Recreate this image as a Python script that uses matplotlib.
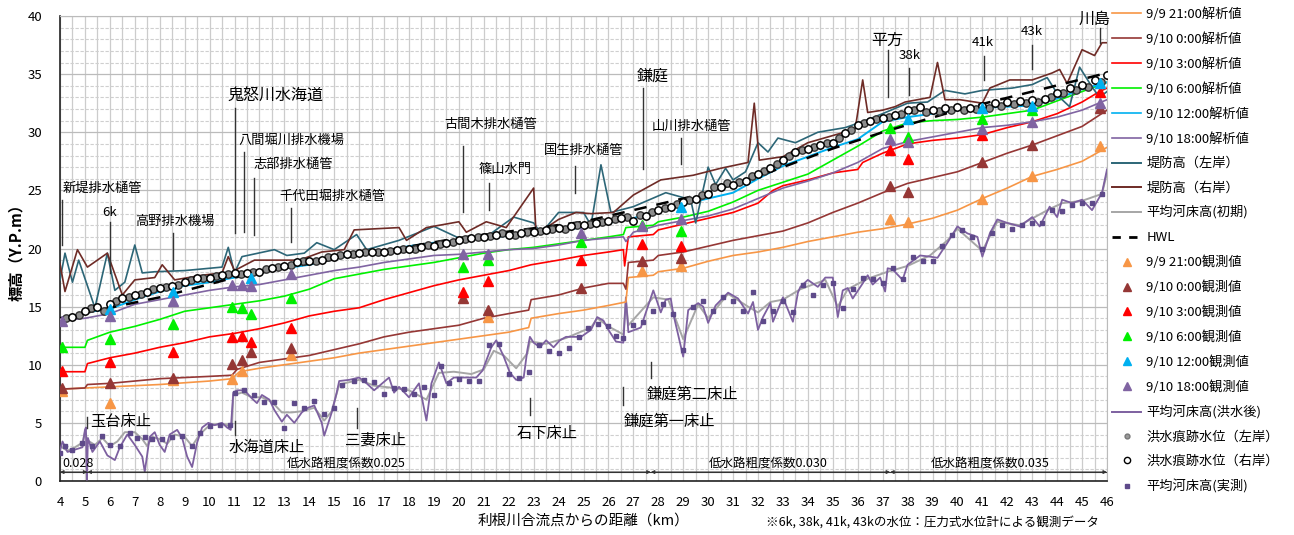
import numpy as np
import matplotlib
matplotlib.use('Agg')
import matplotlib.pyplot as plt
from matplotlib.lines import Line2D

plt.rcParams['font.family'] = ['Noto Sans CJK JP', 'DejaVu Sans']

# ---- calculated water levels (km, m) ----
km_2100 = [4, 5, 6, 7, 8, 9, 10, 10.9, 11.2, 12, 13, 14, 15, 16, 17, 18, 19, 20, 21, 22, 22.8, 22.9, 24, 25, 26, 26.7,
           26.8, 27.8, 28, 29, 30, 31, 32, 33, 34, 35, 36, 37, 38, 39, 40, 41, 42, 43, 44, 45, 46]
wl_2100 = [7.9, 8.0, 8.1, 8.2, 8.3, 8.45, 8.6, 8.8, 9.4, 9.7, 10.0, 10.3, 10.6, 11.0, 11.3, 11.6, 11.9, 12.2, 12.5, 12.8, 13.2, 14.0, 14.4, 14.7, 15.1, 15.4,
           17.5, 17.7, 18.0, 18.3, 18.9, 19.4, 19.7, 20.1, 20.6, 21.0, 21.4, 21.7, 22.1, 22.6, 23.3, 24.3, 25.2, 26.2, 26.8, 27.5, 28.7]

km_0000 = [4, 5, 5.1, 6, 7, 8, 9, 10, 10.9, 11.1, 12, 13, 14, 15, 16, 17, 18, 19, 20, 21, 22, 22.8, 22.9, 24, 25, 26, 26.6, 26.7,
           26.8, 27.8, 28, 29, 30, 31, 32, 33, 34, 35, 36, 37, 38, 39, 40, 41, 42, 43, 44, 45, 46]
wl_0000 = [7.9, 8.0, 8.3, 8.4, 8.6, 8.8, 8.9, 9.0, 9.1, 9.6, 10.2, 10.5, 10.8, 11.3, 11.8, 12.4, 12.8, 13.1, 13.4, 14.0, 14.4, 14.7, 15.6, 16.0, 16.6, 17.0, 17.0, 16.5,
           18.8, 19.0, 19.4, 19.7, 20.2, 20.7, 21.1, 21.5, 22.2, 23.1, 23.9, 24.8, 25.6, 26.1, 26.6, 27.4, 28.2, 28.9, 29.7, 30.5, 31.9]

km_0300 = [4, 5, 5.1, 6, 7, 8, 9, 10, 11, 12, 13, 14, 15, 16, 17, 18, 19, 20, 21, 22, 22.9, 24, 25, 26, 26.6, 26.65,
           26.8, 27.8, 28, 29, 30, 31, 32, 32.6, 33, 34, 35, 36, 36.2, 37, 38, 39, 40, 41, 42, 43, 44, 45, 45.7, 46]
wl_0300 = [9.4, 9.4, 10.1, 10.6, 11.0, 11.5, 11.9, 12.4, 12.7, 13.1, 13.6, 14.2, 14.6, 14.9, 15.6, 16.2, 16.8, 17.3, 17.7, 18.1, 18.6, 19.0, 19.4, 19.7, 19.9, 18.5,
           21.0, 21.2, 21.6, 22.1, 22.6, 23.1, 23.9, 25.0, 25.4, 25.9, 26.5, 26.8, 27.4, 28.2, 29.0, 29.3, 29.5, 29.8, 30.4, 30.9, 31.6, 32.6, 33.5, 33.8]

km_0600 = [4, 5, 5.1, 6, 7, 8, 9, 10, 11, 12, 13, 14, 15, 16, 17, 18, 19, 20, 21, 22, 23, 24, 25, 26, 26.6, 26.7,
           27.8, 28, 29, 30, 31, 32, 33, 34, 35, 36, 37, 38, 39, 40, 41, 42, 43, 44, 45, 46]
wl_0600 = [11.5, 11.5, 12.1, 12.8, 13.3, 13.9, 14.6, 14.9, 15.2, 15.5, 15.9, 16.5, 17.4, 17.8, 18.2, 18.5, 18.8, 19.2, 19.6, 19.9, 20.1, 20.4, 20.7, 21.0, 21.2, 21.8,
           22.0, 22.3, 22.7, 23.2, 24.0, 25.0, 25.7, 26.4, 27.6, 28.8, 30.1, 30.8, 31.0, 31.1, 31.3, 31.6, 31.9, 32.7, 33.5, 34.3]

km_1200 = [4, 5, 6, 7, 8, 9, 10, 11, 12, 13, 14, 15, 16, 17, 18, 19, 20, 21, 22, 23, 24, 25, 26, 27, 28, 29, 30,
           31, 32, 33, 34, 35, 36, 37, 38, 39, 40, 41, 42, 43, 44, 45, 46]
wl_1200 = [13.8, 14.5, 14.8, 15.6, 16.3, 16.8, 17.1, 17.5, 17.9, 18.3, 18.6, 19.1, 19.6, 19.8, 20.2, 20.5, 20.7, 20.9, 21.1, 21.3, 21.6, 21.8, 22.2, 22.6, 23.3, 23.8, 24.3,
           24.8, 26.0, 27.1, 27.9, 28.7, 29.4, 30.9, 31.3, 31.6, 31.9, 32.1, 32.2, 32.3, 32.9, 33.7, 34.3]

km_1800 = [4, 5, 6, 7, 8, 9, 10, 11, 12, 13, 14, 15, 16, 17, 18, 19, 20, 21, 22, 23, 24, 25, 26, 26.6, 26.7, 27, 28, 29, 30,
           31, 32, 33, 34, 35, 36, 37, 38, 39, 40, 41, 42, 43, 44, 45, 46]
wl_1800 = [13.8, 14.0, 14.4, 15.2, 15.6, 16.0, 16.4, 16.7, 16.9, 17.3, 17.7, 18.1, 18.4, 18.8, 19.1, 19.4, 19.5, 19.7, 19.9, 20.0, 20.3, 20.7, 20.9, 21.0, 20.6, 21.4, 22.0, 22.4, 22.8,
           23.4, 24.3, 25.2, 25.8, 26.5, 27.4, 28.6, 29.2, 29.6, 30.0, 30.4, 30.6, 30.9, 31.3, 31.9, 32.8]

km_hwl = [4, 8, 11, 14, 20, 25, 27, 30, 32, 35, 37, 40, 43, 46]
hwl = [14.0, 15.8, 17.5, 18.7, 20.9, 22.3, 23.3, 24.8, 26.2, 28.6, 30.0, 31.9, 33.5, 35.1]

# ---- levee crest ----
km_lev_l = [4.0, 4.2, 4.5, 4.75, 5.4, 5.9, 6.2, 6.6, 7.0, 7.3, 7.8, 9.0, 10.5, 10.75, 11.0, 11.3, 12.6, 13.1, 13.8, 14.3, 15.0, 15.9,
            16.3, 17.6, 19.0, 20.0, 21.1, 22.2, 23.0, 23.3, 24.0, 25.0, 25.3, 25.7, 26.1, 27.0, 28.3, 29.3, 29.5, 30.0, 30.3, 30.7,
            31.0, 31.5, 32.0, 32.4, 32.8, 33.5, 34.4, 35.5, 36.3, 37.0, 38.0, 38.8, 39.5, 40.3, 41.0, 42.2, 43.0, 43.6, 44.1, 44.5, 44.9, 45.4, 45.7, 46.0]
lev_l = [17.3, 19.6, 17.1, 19.0, 14.9, 19.6, 16.4, 17.1, 20.3, 17.9, 18.0, 18.1, 18.4, 20.1, 17.9, 19.3, 19.9, 19.4, 19.6, 20.5, 19.9, 21.2,
         19.9, 20.7, 21.9, 20.9, 21.0, 22.7, 22.2, 21.3, 23.1, 23.1, 22.0, 27.2, 23.1, 23.6, 24.8, 24.2, 22.2, 27.0, 25.5, 26.9,
         25.9, 26.6, 29.1, 28.3, 29.5, 29.1, 30.0, 30.4, 31.0, 31.6, 32.5, 32.6, 33.6, 33.3, 33.6, 33.8, 34.1, 34.7, 33.0, 32.2, 35.6, 33.9, 33.0, 33.5]

km_lev_r = [4.0, 4.2, 4.7, 5.1, 5.5, 5.9, 6.5, 7.0, 7.8, 8.1, 8.6, 9.7, 10.5, 10.75, 11.0, 11.8, 13.6, 14.5, 15.4, 15.8, 17.6, 17.9,
            18.7, 20.0, 20.3, 21.1, 21.9, 23.0, 23.1, 24.0, 24.7, 25.3, 26.2, 27.0, 28.1, 29.4, 30.5, 31.6, 31.85, 32.05, 33.0, 34.0,
            35.3, 35.9, 36.2, 36.4, 37.0, 37.5, 37.9, 38.9, 39.2, 39.5, 40.1, 41.0, 41.3, 42.1, 43.0, 43.8, 44.1, 44.4, 45.0, 45.5, 45.8, 46.0]
lev_r = [18.7, 16.3, 19.9, 18.4, 19.0, 19.6, 16.0, 17.3, 17.5, 18.6, 17.3, 17.7, 17.9, 19.3, 18.1, 19.0, 19.0, 19.7, 19.9, 21.6, 21.8, 20.7,
         21.8, 22.3, 21.4, 22.3, 21.8, 25.2, 21.2, 22.5, 23.1, 23.0, 23.1, 24.6, 25.9, 26.3, 26.9, 27.4, 32.5, 27.6, 27.9, 29.1,
         29.9, 30.3, 34.5, 31.7, 31.9, 32.2, 32.6, 33.0, 36.0, 32.8, 32.8, 32.5, 33.8, 34.5, 34.5, 35.1, 35.4, 34.2, 37.1, 36.6, 37.7, 37.7]

# ---- river bed ----
km_bed = [4.0, 4.1, 4.3, 4.6, 4.9, 5.0, 5.04, 5.08, 5.12, 5.3, 5.6, 5.9, 6.2, 6.4, 6.7, 7.0, 7.3, 7.4, 7.6, 7.8, 8.0, 8.2, 8.4, 8.7,
          8.9, 9.1, 9.3, 9.5, 9.7, 9.95, 10.2, 10.5, 10.7, 10.85, 10.95, 11.1, 11.4, 11.7, 11.9, 12.1, 12.4, 12.6, 12.9, 13.1, 13.4,
          13.7, 13.95, 14.2, 14.5, 14.6, 14.9, 15.1, 15.2, 15.6, 16.0, 16.3, 16.6, 17.2, 17.4, 17.6, 18.0, 18.4, 18.7, 18.9, 19.2,
          19.5, 19.8, 20.3, 20.7, 20.95, 21.3, 21.5, 21.8, 22.05, 22.3, 22.6, 22.75, 22.85, 23.0, 23.25, 23.5, 23.8, 24.05, 24.3,
          24.9, 25.3, 25.55, 25.8, 26.0, 26.3, 26.6, 26.7, 26.8, 27.3, 27.8, 28.1, 28.3, 28.5, 28.6, 29.0, 29.2, 29.6, 29.8, 30.0,
          30.3, 30.8, 31.2, 31.6, 31.8, 32.0, 32.2, 32.5, 32.6, 33.0, 33.4, 33.6, 33.7, 34.0, 34.4, 34.7, 35.0, 35.2, 35.4, 35.6,
          35.8, 36.2, 36.4, 36.6, 36.9, 37.1, 37.2, 37.4, 37.8, 38.0, 38.5, 38.9, 39.2, 39.6, 40.0, 40.4, 40.8, 41.0, 41.3, 41.6,
          42.0, 42.5, 43.0, 43.3, 43.7, 44.0, 44.2, 44.6, 45.0, 45.4, 45.8, 46.0]
bed_after = [2.6, 3.4, 2.5, 2.7, 2.9, 4.4, 4.6, 0.1, 3.7, 2.5, 3.4, 2.2, 1.8, 2.9, 4.0, 3.1, 2.1, 0.8, 3.8, 4.2, 3.1, 2.5, 4.0, 4.4,
             3.7, 2.1, 1.2, 3.3, 4.6, 5.0, 4.8, 5.0, 4.6, 4.4, 7.6, 7.8, 7.8, 7.1, 6.7, 7.4, 7.0, 6.1, 5.1, 5.7, 5.0,
             5.9, 6.3, 6.5, 5.0, 3.9, 5.9, 7.6, 8.6, 8.7, 8.9, 8.4, 7.8, 8.9, 7.6, 8.1, 7.2, 8.4, 5.2, 8.4, 10.2,
             8.4, 8.9, 8.9, 8.9, 9.5, 11.5, 12.1, 10.7, 9.3, 8.7, 8.9, 11.3, 12.4, 11.9, 11.5, 12.1, 11.5, 12.1, 12.4,
             12.4, 13.0, 14.1, 13.8, 13.0, 12.0, 11.9, 15.8, 12.8, 13.2, 16.4, 14.5, 15.6, 15.7, 14.4, 10.7, 14.7, 15.3, 15.0, 13.6,
             15.1, 16.2, 15.7, 14.4, 15.4, 13.0, 14.1, 15.3, 13.7, 15.8, 13.7, 16.2, 16.7, 17.3, 16.7, 17.5, 17.5, 14.1, 16.4, 16.6,
             15.7, 17.0, 17.7, 16.9, 17.5, 16.3, 18.3, 18.2, 17.3, 18.6, 19.4, 19.3, 19.2, 20.5, 21.9, 21.3, 21.0, 19.3, 21.3, 22.5,
             22.2, 21.9, 22.7, 21.9, 23.6, 22.7, 24.2, 23.9, 24.2, 23.3, 24.8, 26.8]

km_bed0 = [4.0, 4.3, 4.6, 4.9, 5.0, 5.1, 5.4, 5.7, 6.0, 6.3, 6.6, 7.0, 7.3, 7.5, 7.7, 8.0, 8.3, 8.6, 9.0, 9.3, 9.6, 10.0, 10.5,
           10.9, 10.95, 11.3, 11.7, 12.1, 12.5, 12.9, 13.3, 13.7, 14.2, 14.6, 14.9, 15.2, 16.0, 16.6, 17.4, 18.0, 18.7, 19.2,
           19.8, 20.5, 21.0, 21.4, 21.8, 22.3, 22.75, 22.85, 23.5, 24.3, 25.3, 25.55, 26.0, 26.6, 26.7, 26.8, 27.8, 28.4, 29.0,
           29.6, 30.0, 30.8, 31.6, 32.0, 32.5, 33.0, 33.7, 34.7, 35.2, 35.6, 36.4, 37.2, 38.0, 38.9, 39.6, 40.0, 41.0, 41.6,
           42.5, 43.7, 44.2, 45.0, 45.8, 46.0]
bed_init = [3.0, 2.6, 2.9, 3.3, 4.2, 3.5, 3.1, 3.7, 3.0, 3.4, 4.2, 4.2, 3.6, 3.0, 3.8, 3.6, 3.2, 4.0, 3.8, 3.0, 4.0, 4.8, 4.9,
            4.7, 7.4, 7.6, 7.2, 7.2, 6.8, 5.9, 5.9, 6.0, 6.3, 5.2, 6.0, 8.3, 8.7, 8.2, 8.0, 7.8, 7.0, 9.3,
            9.4, 9.2, 9.6, 11.2, 10.8, 9.7, 11.0, 12.0, 11.8, 12.3, 13.2, 14.0, 13.3, 12.6, 15.5, 13.4, 15.8, 15.6, 12.2,
            15.2, 14.0, 16.1, 15.0, 14.5, 15.4, 15.6, 16.5, 17.3, 15.0, 16.5, 17.4, 18.0, 18.5, 19.4, 20.7, 21.7, 19.8, 22.3,
            22.0, 23.4, 23.9, 24.1, 24.7, 26.5]

km_bed_meas = [4.0, 4.2, 4.5, 4.9, 5.3, 5.7, 6.0, 6.4, 6.8, 7.1, 7.4, 7.7, 8.1, 8.5, 8.9, 9.3, 9.6, 10.0, 10.4, 10.8, 11.0, 11.4,
               11.8, 12.2, 12.6, 13.0, 13.4, 13.8, 14.2, 14.6, 15.0, 15.3, 15.8, 16.2, 16.6, 17.0, 17.4, 17.8, 18.2, 18.6, 19.0,
               19.3, 19.6, 20.0, 20.4, 20.8, 21.2, 21.6, 22.0, 22.4, 22.8, 23.2, 23.6, 24.0, 24.4, 24.8, 25.2, 25.6, 26.0, 26.3,
               26.6, 27.0, 27.4, 27.8, 28.2, 28.6, 29.0, 29.4, 29.8, 30.2, 30.6, 31.0, 31.4, 31.8, 32.2, 32.6, 33.0, 33.4, 33.8,
               34.2, 34.6, 35.0, 35.4, 35.8, 36.2, 36.6, 37.0, 37.4, 37.8, 38.2, 38.6, 39.0, 39.4, 39.8, 40.2, 40.6, 41.0, 41.4,
               41.8, 42.2, 42.6, 43.0, 43.4, 43.8, 44.2, 44.6, 45.0, 45.4, 45.8]
bed_meas = [2.4, 3.0, 2.7, 3.3, 3.0, 3.9, 3.1, 3.0, 4.1, 3.7, 3.8, 3.6, 3.6, 3.8, 3.9, 3.0, 4.1, 4.7, 4.8, 4.8, 7.6, 7.8,
            7.4, 6.8, 6.8, 4.6, 6.7, 6.3, 6.9, 5.8, 6.3, 8.3, 8.6, 8.7, 8.5, 7.5, 8.0, 7.9, 7.5, 8.1, 7.4,
            9.9, 8.4, 8.8, 8.6, 8.6, 11.7, 11.8, 9.2, 8.9, 9.4, 11.7, 11.2, 11.0, 11.4, 12.4, 13.2, 13.5, 13.3, 12.5,
            12.3, 13.4, 13.7, 14.6, 15.2, 14.4, 11.3, 15.0, 15.5, 14.6, 15.8, 15.5, 14.6, 16.3, 13.8, 14.6, 15.5, 14.5, 16.9,
            16.0, 16.9, 17.0, 14.9, 16.5, 17.5, 17.4, 17.0, 18.3, 17.4, 19.3, 18.9, 18.9, 20.2, 21.2, 21.6, 21.0, 20.0, 21.3,
            22.0, 21.7, 22.0, 22.2, 22.2, 23.3, 23.2, 23.7, 23.9, 23.9, 24.7]

# ---- flood trace marks ----
trace_r = [13.8, 14.1, 14.6, 15.0, 15.2, 15.7, 16.0, 16.3, 16.6, 16.8, 17.1, 17.5, 17.5, 17.7, 17.9, 17.9, 18.0, 18.3, 18.5, 18.8,
           18.9, 19.0, 19.3, 19.5, 19.6, 19.7, 19.7, 19.9, 20.0, 20.1, 20.2, 20.5, 20.7, 20.9, 21.0, 21.2, 21.2, 21.3, 21.4, 21.6,
           21.8, 21.9, 22.0, 22.2, 22.4, 22.6, 22.4, 22.8, 23.3, 23.6, 24.0, 24.3, 24.7, 25.3, 25.5, 25.8, 26.4, 26.9, 27.6, 28.3,
           28.6, 28.9, 29.1, 29.9, 30.6, 31.0, 31.2, 31.5, 31.9, 32.2, 31.9, 32.1, 32.2, 32.1, 32.3, 32.5, 32.6, 32.7, 32.8, 32.9,
           33.4, 33.8, 34.1, 34.5, 34.9]
trace_l = [14.0, 14.3, 14.9, 14.6, 15.5, 15.8, 16.1, 16.5, 16.7, 16.9, 17.3, 17.5, 17.6, 17.8, 17.8, 18.0, 18.2, 18.4, 18.6, 18.9,
           18.9, 19.3, 19.4, 19.5, 19.7, 19.7, 19.8, 20.0, 20.0, 20.3, 20.4, 20.6, 20.8, 21.0, 21.1, 21.3, 21.2, 21.4, 21.5, 21.7,
           21.7, 22.0, 22.1, 22.3, 22.5, 22.7, 22.9, 23.1, 23.5, 23.8, 24.2, 24.6, 25.3, 25.6, 25.7, 26.2, 26.7, 27.3, 28.0, 28.5,
           28.7, 29.1, 29.5, 30.2, 30.8, 31.1, 31.3, 31.6, 31.9, 31.7, 31.8, 31.9, 31.9, 32.0, 32.1, 32.3, 32.4, 32.5, 32.6, 33.0,
           33.4, 33.6, 33.9, 34.3]
km_trace_r = np.arange(4.0, 46.01, 0.5)
km_trace_l = np.arange(4.25, 46.0, 0.5)

# ---- observed water levels ----
okm_2100 = [4.1, 6.0, 8.55, 10.9, 11.3, 13.25, 21.15, 27.35, 28.9, 37.3, 38.0, 41.0, 43.0, 45.7]
obs_2100 = [7.7, 6.7, 8.7, 8.8, 9.5, 10.8, 14.1, 18.1, 18.5, 22.5, 22.3, 24.3, 26.2, 28.8]
okm_0000 = [4.1, 6.0, 8.55, 10.9, 11.3, 11.65, 13.25, 20.15, 21.15, 24.9, 27.35, 28.9, 37.3, 38.0, 41.0, 43.0, 45.7]
obs_0000 = [8.0, 8.4, 8.9, 10.1, 10.4, 11.1, 11.4, 15.7, 14.7, 16.6, 18.9, 19.2, 25.4, 24.9, 27.4, 28.9, 32.1]
okm_0300 = [4.1, 6.0, 8.55, 10.9, 11.3, 11.65, 13.25, 20.15, 21.15, 24.9, 27.35, 28.9, 37.3, 38.0, 41.0, 45.7]
obs_0300 = [9.5, 10.2, 11.1, 12.4, 12.5, 12.0, 13.2, 16.3, 17.2, 19.0, 20.4, 20.2, 28.5, 27.7, 29.8, 33.5]
okm_0600 = [4.1, 6.0, 8.55, 10.9, 11.3, 11.65, 13.25, 20.15, 21.15, 24.9, 27.35, 28.9, 37.3, 38.0, 41.0, 43.0]
obs_0600 = [11.5, 12.2, 13.5, 15.0, 14.9, 14.4, 15.7, 18.4, 19.0, 20.6, 22.0, 21.5, 30.4, 29.6, 31.1, 31.9]
okm_1200 = [6.0, 8.55, 11.65, 28.9, 38.0, 41.0, 43.0, 45.7]
obs_1200 = [14.8, 16.3, 17.5, 23.6, 31.1, 32.1, 32.3, 34.2]
okm_1800 = [4.1, 6.0, 8.55, 10.9, 11.3, 11.65, 13.25, 20.15, 21.15, 24.9, 27.35, 28.9, 37.3, 38.0, 41.0, 43.0, 45.7]
obs_1800 = [13.8, 14.2, 15.5, 16.9, 16.9, 16.8, 17.8, 19.5, 19.5, 21.3, 21.9, 22.5, 29.4, 29.2, 30.3, 30.9, 32.5]

# ---- annotations: (label, km, line bottom, line top, text x, text y, ha, size) ----
top_notes = [
    ('新堤排水樋管', 4.1, 20.3, 24.2, 4.1, 25.2, 'left', 9.5),
    ('6k', 6.0, 17.9, 22.3, 6.0, 23.1, 'center', 9.5),
    ('高野排水機場', 8.55, 18.2, 21.3, 8.6, 22.3, 'center', 9.5),
    ('鬼怒川水海道', 11.0, 21.3, 32.1, 10.7, 33.1, 'left', 11.5),
    ('八間堀川排水機場', 11.4, 21.4, 28.3, 11.15, 29.3, 'left', 9.5),
    ('志部排水樋管', 11.8, 21.2, 26.1, 11.75, 27.2, 'left', 9.5),
    ('千代田堀排水樋管', 13.25, 20.6, 23.5, 12.8, 24.5, 'left', 9.5),
    ('古間木排水樋管', 20.15, 23.1, 28.8, 19.4, 30.7, 'left', 9.5),
    ('篠山水門', 21.2, 23.3, 25.6, 20.8, 26.8, 'left', 9.5),
    ('国生排水樋管', 24.65, 24.8, 27.1, 23.4, 28.4, 'left', 9.5),
    ('鎌庭', 27.4, 26.8, 33.8, 27.15, 34.8, 'left', 11.5),
    ('山川排水樋管', 28.9, 27.3, 29.5, 27.75, 30.5, 'left', 9.5),
    ('平方', 37.2, 33.0, 37.1, 37.2, 37.9, 'center', 11.5),
    ('38k', 38.05, 33.2, 35.5, 38.1, 36.6, 'center', 9.5),
    ('41k', 41.05, 34.5, 36.6, 41.0, 37.7, 'center', 9.5),
    ('43k', 43.0, 35.4, 37.5, 43.0, 38.7, 'center', 9.5),
    ('川島', 45.7, 37.7, 39.0, 45.5, 39.7, 'center', 11.5),
]
bottom_notes = [
    ('玉台床止', 5.1, 4.6, 5.5, 5.2, 5.1, 'left', 11),
    ('水海道床止', 11.0, 4.0, 5.2, 10.75, 2.9, 'left', 11),
    ('三妻床止', 15.9, 4.6, 6.3, 15.45, 3.5, 'left', 11),
    ('石下床止', 22.85, 5.7, 7.1, 22.3, 4.1, 'left', 11),
    ('鎌庭第一床止', 26.6, 6.5, 8.1, 26.6, 5.1, 'left', 11),
    ('鎌庭第二床止', 27.7, 8.9, 10.2, 27.55, 7.5, 'left', 11),
]
rough_bounds = [4.0, 5.1, 27.7, 37.3, 46.0]
rough_labels = ['0.028', '低水路粗度係数0.025', '低水路粗度係数0.030', '低水路粗度係数0.035']
rough_text_x = [4.1, 15.5, 32.4, 41.3]

c_2100, c_0000, c_0300 = '#F79646', '#953735', '#FF0000'
c_0600, c_1200, c_1800 = '#00F000', '#00B0F0', '#8064A2'
c_lev_l, c_lev_r, c_bed0, c_bed = '#2C6677', '#6E2B26', '#A6A6A6', '#7D60A0'

fig = plt.figure(figsize=(12.94, 5.35), dpi=100)
ax = fig.add_axes([60 / 1294, 54 / 535, 1047 / 1294, 465 / 535])

ax.set_xlim(4, 46)
ax.set_ylim(0, 40)
ax.set_xticks(np.arange(4, 47, 1))
ax.set_xticks(np.arange(4, 46.01, 0.5), minor=True)
ax.set_yticks(np.arange(0, 41, 5))
ax.set_yticks(np.arange(0, 41, 1), minor=True)
ax.grid(axis='x', which='both', color='#CCCCCC', lw=0.9)
ax.grid(axis='y', which='minor', color='#CFCFCF', lw=0.8, ls=(0, (3, 1.5)))
ax.grid(axis='y', which='major', color='#BBBBBB', lw=0.9)
ax.set_axisbelow(True)
ax.tick_params(which='both', length=0, labelsize=9.5)
ax.tick_params(axis='x', pad=11)
ax.tick_params(axis='y', pad=13)
for s in ['top', 'right']:
    ax.spines[s].set_color('#BBBBBB')
for s in ['left', 'bottom']:
    ax.spines[s].set_color('#222222')
    ax.spines[s].set_linewidth(1.2)

ax.set_ylabel('標高（Y.P.m）', fontsize=11, fontweight='bold', labelpad=2)
ax.set_xlabel('利根川合流点からの距離（km）', fontsize=10.5, labelpad=3)
fig.text(766 / 1294, 1 - 522 / 535, '※6k, 38k, 41k, 43kの水位：圧力式水位計による観測データ',
         fontsize=9, va='center', ha='left')

# bed
ax.plot(km_bed0, bed_init, color=c_bed0, lw=1.4, zorder=2)
ax.plot(km_bed, bed_after, color=c_bed, lw=1.3, zorder=3)
ax.plot(km_bed_meas, bed_meas, ls='none', marker='s', ms=2.6, color='#5E4A8A', zorder=4)

# calculated
ax.plot(km_2100, wl_2100, color=c_2100, lw=1.2, zorder=3)
ax.plot(km_0000, wl_0000, color=c_0000, lw=1.2, zorder=3)
ax.plot(km_0300, wl_0300, color=c_0300, lw=1.2, zorder=3)
ax.plot(km_0600, wl_0600, color=c_0600, lw=1.2, zorder=3)
ax.plot(km_1800, wl_1800, color=c_1800, lw=1.2, zorder=3)
ax.plot(km_1200, wl_1200, color=c_1200, lw=1.4, zorder=3)

# levees and HWL
ax.plot(km_lev_l, lev_l, color=c_lev_l, lw=1.2, zorder=4)
ax.plot(km_lev_r, lev_r, color=c_lev_r, lw=1.2, zorder=4)
ax.plot(km_hwl, hwl, color='black', lw=1.8, ls=(0, (5, 4)), zorder=4)

# trace marks
ax.plot(km_trace_l, trace_l, ls='none', marker='o', ms=5.3, mfc='#8C8C8C', mec='#333333', mew=1.0, zorder=5)
ax.plot(km_trace_r, trace_r, ls='none', marker='o', ms=5.3, mfc='white', mec='black', mew=1.1, zorder=5)

# observed
for k, v, c in [(okm_2100, obs_2100, c_2100), (okm_0000, obs_0000, c_0000), (okm_0300, obs_0300, c_0300),
                (okm_0600, obs_0600, c_0600), (okm_1200, obs_1200, c_1200), (okm_1800, obs_1800, c_1800)]:
    ax.plot(k, v, ls='none', marker='^', ms=6.5, color=c, zorder=6)

# annotations
for lab, k, y0, y1, tx, ty, ha, fs in top_notes + bottom_notes:
    ax.plot([k, k], [y0, y1], color='#333333', lw=1.0, zorder=5)
    ax.text(tx, ty, lab, ha=ha, va='center', fontsize=fs, zorder=7)

# roughness arrows
ax.plot([4, 46], [0.77, 0.77], color='#333333', lw=0.8, zorder=5)
for i in range(len(rough_labels)):
    ax.annotate('', xy=(rough_bounds[i], 0.77), xytext=(rough_bounds[i + 1], 0.77),
                arrowprops=dict(arrowstyle='<|-|>', lw=0.8, color='#333333', mutation_scale=5,
                                shrinkA=0, shrinkB=0), zorder=5)
    ax.text(rough_text_x[i], 1.5, rough_labels[i], ha='left' if i == 0 else 'center', va='center', fontsize=9)

# legend
handles = [
    Line2D([], [], color=c_2100, lw=1.2), Line2D([], [], color=c_0000, lw=1.2),
    Line2D([], [], color=c_0300, lw=1.2), Line2D([], [], color=c_0600, lw=1.2),
    Line2D([], [], color=c_1200, lw=1.2), Line2D([], [], color=c_1800, lw=1.2),
    Line2D([], [], color=c_lev_l, lw=1.4), Line2D([], [], color=c_lev_r, lw=1.4),
    Line2D([], [], color=c_bed0, lw=1.4), Line2D([], [], color='black', lw=2, ls=(0, (3, 3))),
]
for c in [c_2100, c_0000, c_0300, c_0600, c_1200, c_1800]:
    handles.append(Line2D([], [], ls='none', marker='^', ms=5.5, color=c))
handles += [
    Line2D([], [], color=c_bed, lw=1.4),
    Line2D([], [], ls='none', marker='o', ms=3.5, mfc='#9A9A9A', mec='#777777'),
    Line2D([], [], ls='none', marker='o', ms=4.5, mfc='white', mec='black'),
    Line2D([], [], ls='none', marker='s', ms=2.6, color='#5E4A8A'),
]
labels = ['9/9 21:00解析値', '9/10 0:00解析値', '9/10 3:00解析値', '9/10 6:00解析値', '9/10 12:00解析値',
          '9/10 18:00解析値', '堤防高（左岸）', '堤防高（右岸）', '平均河床高(初期)', 'HWL',
          '9/9 21:00観測値', '9/10 0:00観測値', '9/10 3:00観測値', '9/10 6:00観測値', '9/10 12:00観測値',
          '9/10 18:00観測値', '平均河床高(洪水後)', '洪水痕跡水位（左岸）', '洪水痕跡水位（右岸）', '平均河床高(実測)']
fig.legend(handles, labels, loc='upper left', bbox_to_anchor=(1112 / 1294, 1 - 7 / 535), frameon=False,
           fontsize=9.5, handlelength=2.2, handletextpad=0.4, labelspacing=0.86, borderaxespad=0, borderpad=0)

fig.savefig('out.png', dpi=100)
